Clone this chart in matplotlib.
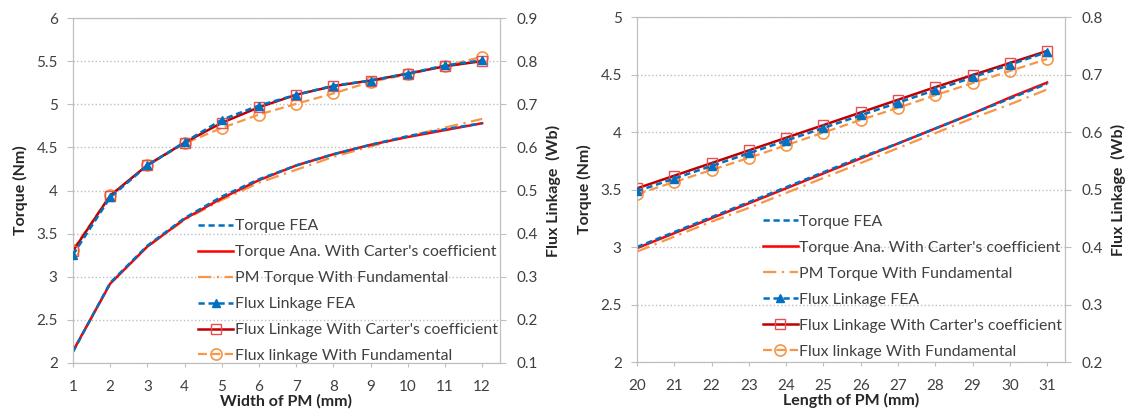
import matplotlib.pyplot as plt
from matplotlib.ticker import FuncFormatter, MultipleLocator

plt.rcParams['font.family'] = ['Lato', 'DejaVu Sans']

# Width sweep (left panel)
width_mm = [1, 2, 3, 4, 5, 6, 7, 8, 9, 10, 11, 12]
w_torque_fea = [2.13, 2.93, 3.36, 3.68, 3.93, 4.13, 4.29, 4.42, 4.53, 4.63, 4.71, 4.78]
w_torque_carter = [2.14, 2.92, 3.35, 3.67, 3.91, 4.12, 4.29, 4.42, 4.53, 4.62, 4.70, 4.78]
w_torque_fund = [2.13, 2.92, 3.35, 3.66, 3.89, 4.09, 4.24, 4.39, 4.51, 4.63, 4.73, 4.83]
w_flux_fea = [0.351, 0.484, 0.558, 0.612, 0.664, 0.697, 0.722, 0.743, 0.755, 0.771, 0.790, 0.802]
w_flux_carter = [0.360, 0.488, 0.559, 0.611, 0.657, 0.693, 0.722, 0.742, 0.755, 0.771, 0.788, 0.800]
w_flux_fund = [0.363, 0.489, 0.558, 0.609, 0.645, 0.676, 0.701, 0.725, 0.752, 0.769, 0.789, 0.810]

# Length sweep (right panel)
length_mm = [20, 21, 22, 23, 24, 25, 26, 27, 28, 29, 30, 31]
l_torque_fea = [3.00, 3.13, 3.26, 3.39, 3.52, 3.65, 3.78, 3.90, 4.03, 4.16, 4.29, 4.42]
l_torque_carter = [2.99, 3.12, 3.25, 3.38, 3.51, 3.64, 3.77, 3.90, 4.03, 4.16, 4.30, 4.43]
l_torque_fund = [2.96, 3.09, 3.22, 3.34, 3.47, 3.60, 3.73, 3.86, 3.99, 4.12, 4.24, 4.37]
l_flux_fea = [0.497, 0.519, 0.541, 0.563, 0.585, 0.607, 0.629, 0.651, 0.673, 0.695, 0.717, 0.739]
l_flux_carter = [0.502, 0.524, 0.546, 0.568, 0.590, 0.612, 0.634, 0.656, 0.678, 0.699, 0.720, 0.741]
l_flux_fund = [0.492, 0.513, 0.534, 0.555, 0.577, 0.599, 0.621, 0.642, 0.664, 0.685, 0.706, 0.727]

labels = ["Torque FEA",
          "Torque Ana. With Carter's coefficient",
          "PM Torque With Fundamental",
          "Flux Linkage FEA",
          "Flux Linkage With Carter's coefficient",
          "Flux linkage With Fundamental"]

BLUE = '#0070C0'
RED = '#FF0000'
DARKRED = '#C00000'
ORANGE = '#F79646'
GRID = '#BFBFBF'
TXT = '#404040'


def fmt(v, pos):
    return '%g' % round(v, 2)


def panel(rect, x, t_fea, t_car, t_fund, f_fea, f_car, f_fund,
          tlim, flim, xlabel, leg_anchor):
    ax = fig.add_axes(rect)
    ax2 = ax.twinx()
    h = []
    h += ax.plot(x, t_fea, color=BLUE, lw=1.8, ls=(0, (2.5, 1.5)), zorder=3)
    h += ax.plot(x, t_car, color=RED, lw=1.8, zorder=2)
    h += ax.plot(x, t_fund, color=ORANGE, lw=1.6, ls=(0, (6, 2.5, 1, 2.5)), zorder=1)
    h += ax2.plot(x, f_fea, color=BLUE, lw=1.8, ls=(0, (2.5, 1.5)),
                  marker='^', ms=6, mfc=BLUE, mec=BLUE, zorder=3)
    h += ax2.plot(x, f_car, color=DARKRED, lw=1.8, marker='s', ms=7.5,
                  mfc='none', mec='#E85050', mew=1.0, zorder=2)
    h += ax2.plot(x, f_fund, color=ORANGE, lw=1.6, ls=(0, (4, 2)), marker='o',
                  ms=8, mfc='none', mec=ORANGE, mew=1.2, zorder=1)

    ax.set_xlim(x[0], x[-1] + 0.48)
    ax.set_ylim(*tlim)
    ax2.set_ylim(*flim)
    ax.set_xticks(x)
    ax.yaxis.set_major_locator(MultipleLocator(0.5))
    ax2.yaxis.set_major_locator(MultipleLocator(0.1))
    ax.yaxis.set_major_formatter(FuncFormatter(fmt))
    ax2.yaxis.set_major_formatter(FuncFormatter(fmt))
    ax.grid(axis='y', color=GRID, ls=':', lw=1)
    ax.set_axisbelow(True)

    for a in (ax, ax2):
        for s in a.spines.values():
            s.set_color(GRID)
        a.tick_params(labelsize=11, labelcolor=TXT, color=GRID, width=0.8)
    ax.tick_params(axis='x', length=3, pad=9)
    ax.tick_params(axis='y', length=4, pad=7)
    ax2.tick_params(axis='y', length=4, pad=8)

    ax.set_xlabel(xlabel, fontsize=11.5, fontweight='bold', color='#262626', labelpad=0)
    ax.set_ylabel('Torque (Nm)', fontsize=11.5, fontweight='bold', color='#262626',
                  labelpad=6)
    ax2.set_ylabel('Flux Linkage  (Wb)', fontsize=11.5, fontweight='bold', color='#262626',
                   labelpad=6)

    leg = ax2.legend(h, labels, loc='lower left', bbox_to_anchor=leg_anchor,
                     frameon=False, fontsize=11.4, handlelength=2.2,
                     handletextpad=0.1, labelspacing=0.75, borderpad=0,
                     borderaxespad=0)
    for t in leg.get_texts():
        t.set_color(TXT)


fig = plt.figure(figsize=(11.26, 4.12), dpi=100)

panel([73 / 1126, 1 - 363 / 412, 427 / 1126, 345 / 412], width_mm,
      w_torque_fea, w_torque_carter, w_torque_fund,
      w_flux_fea, w_flux_carter, w_flux_fund,
      (2, 6), (0.1, 0.9), 'Width of PM (mm)', (0.293, 0.0))

panel([637 / 1126, 1 - 362 / 412, 428 / 1126, 345 / 412], length_mm,
      l_torque_fea, l_torque_carter, l_torque_fund,
      l_flux_fea, l_flux_carter, l_flux_fund,
      (2, 5), (0.2, 0.8), 'Length of PM (mm)', (0.294, 0.01))

fig.savefig('out.png', dpi=100)
